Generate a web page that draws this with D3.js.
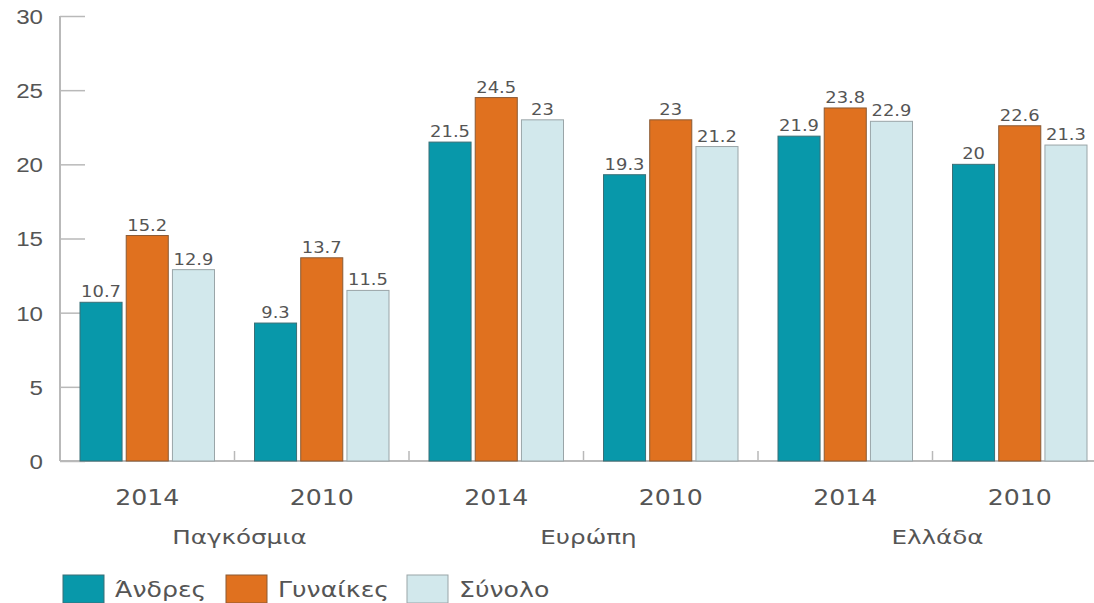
<!DOCTYPE html>
<html>
<head>
<meta charset="utf-8">
<script src="https://cdn.jsdelivr.net/npm/d3@7"></script>
<style>
  html, body { margin: 0; padding: 0; background: #fff; }
  svg { display: block; font-family: "DejaVu Sans", sans-serif; }
</style>
</head>
<body>
<svg id="chart" width="1094" height="603"></svg>
<script>
// Data
const regions = ["Παγκόσμια", "Ευρώπη", "Ελλάδα"];
const years = ["2014", "2010"];
const seriesNames = ["Άνδρες", "Γυναίκες", "Σύνολο"];
const men   = [10.7, 9.3, 21.5, 19.3, 21.9, 20];
const women = [15.2, 13.7, 24.5, 23, 23.8, 22.6];
const total = [12.9, 11.5, 23, 21.2, 22.9, 21.3];
const yTicks = [0, 5, 10, 15, 20, 25, 30];

const colors = ["#0898aa", "#e0711f", "#d2e8ec"];
const strokes = ["#3b6f76", "#8a5a35", "#9aa5a8"];

// One band per region/year pair
const groups = [];
regions.forEach((r, i) => years.forEach((yr, j) => groups.push({ key: r + "|" + yr, region: r, year: yr, idx: i * 2 + j })));
const series = [men, women, total];

const svg = d3.select("#chart");
const plotLeft = 60, plotRight = 1107, plotTop = 16, plotBottom = 461;

const x = d3.scaleBand().domain(groups.map(g => g.key)).range([plotLeft, plotRight]).paddingInner(0).paddingOuter(0);
const xInner = d3.scaleBand().domain(seriesNames).range([20, x.bandwidth() - 20]).paddingInner(0.09);
const y = d3.scaleLinear().domain([0, 30]).range([plotBottom, plotTop]);

const textColor = "#555";
const axisColor = "#b9b9b9";

// Wide, geometric-looking lettering: place text at (px,py) and stretch horizontally
function wide(sel, px, py, sx) {
  sel.attr("x", 0).attr("y", 0)
    .attr("transform", function (d, i) {
      const a = typeof px === "function" ? px(d, i) : px;
      const b = typeof py === "function" ? py(d, i) : py;
      return `translate(${a},${b}) scale(${sx},1)`;
    });
}

// Y axis: ticks pointing inward
const yAxis = svg.append("g").attr("transform", `translate(${plotLeft},0)`)
  .call(d3.axisRight(y).tickValues(yTicks).tickSize(25).tickFormat(d3.format("d")));
yAxis.select(".domain").attr("stroke", axisColor).attr("stroke-width", 2).attr("d", `M0,${plotTop}V${plotBottom}`);
yAxis.selectAll(".tick line").attr("stroke", axisColor).attr("stroke-width", 1.5);
yAxis.selectAll(".tick text")
  .attr("text-anchor", "end").attr("dy", "0.35em")
  .attr("fill", textColor).attr("font-size", 21)
  .call(wide, -17, 0, 1.15);

// X axis baseline with short upward separators between bands
svg.append("line").attr("x1", plotLeft).attr("x2", plotRight).attr("y1", plotBottom).attr("y2", plotBottom)
  .attr("stroke", axisColor).attr("stroke-width", 2);
svg.selectAll(".sep").data(groups.slice(1)).join("line")
  .attr("x1", d => x(d.key)).attr("x2", d => x(d.key))
  .attr("y1", plotBottom).attr("y2", plotBottom - 10)
  .attr("stroke", axisColor).attr("stroke-width", 1.5);

// Bars
const gGroups = svg.selectAll(".grp").data(groups).join("g")
  .attr("transform", d => `translate(${x(d.key)},0)`);

seriesNames.forEach((name, si) => {
  gGroups.append("rect")
    .attr("x", xInner(name))
    .attr("width", xInner.bandwidth())
    .attr("y", d => y(series[si][d.idx]))
    .attr("height", d => plotBottom - y(series[si][d.idx]))
    .attr("fill", colors[si])
    .attr("stroke", strokes[si])
    .attr("stroke-width", 1);
  gGroups.append("text")
    .attr("text-anchor", "middle")
    .attr("fill", textColor)
    .attr("font-size", 16)
    .text(d => series[si][d.idx])
    .call(wide, xInner(name) + xInner.bandwidth() / 2, d => y(series[si][d.idx]) - 5, 1.12);
});

// Year labels
svg.selectAll(".year").data(groups).join("text")
  .attr("text-anchor", "middle")
  .attr("fill", textColor)
  .attr("font-size", 21)
  .text(d => d.year)
  .call(wide, d => x(d.key) + x.bandwidth() / 2, 505, 1.2);

// Region labels centered under each pair of bands
svg.selectAll(".region").data(regions).join("text")
  .attr("text-anchor", "middle")
  .attr("fill", textColor)
  .attr("font-size", 20)
  .text(d => d)
  .call(wide, (r, i) => x(groups[i * 2].key) + x.bandwidth() + 5, 544, 1.23);

// Legend
const legendX = [63, 226, 407];
const leg = svg.selectAll(".leg").data(seriesNames).join("g")
  .attr("transform", (d, i) => `translate(${legendX[i]},575)`);
leg.append("rect").attr("width", 41).attr("height", 28)
  .attr("fill", (d, i) => colors[i]).attr("stroke", (d, i) => strokes[i]).attr("stroke-width", 1);
leg.append("text").attr("dy", "0.35em")
  .attr("fill", textColor).attr("font-size", 21).text(d => d)
  .call(wide, 52, 15, 1.2);
</script>
</body>
</html>
